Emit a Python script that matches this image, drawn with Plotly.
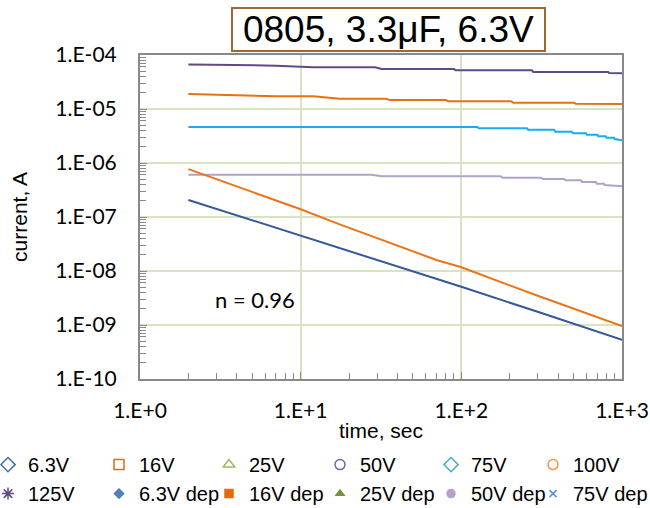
import numpy as np
import plotly.graph_objects as go

# Leakage current relaxation curves, 0805 3.3uF 6.3V MLCC
t_125v = [2, 7, 12, 29, 32, 90, 92, 275, 280, 820, 830, 1000]
i_125v = [6.7e-5, 6.35e-5, 5.9e-5, 5.9e-5, 5.5e-5, 5.5e-5, 5.2e-5, 5.2e-5,
          4.85e-5, 4.85e-5, 4.65e-5, 4.6e-5]

t_100v = [2, 7, 12, 17.5, 34, 36, 80, 83, 204, 210, 503, 515, 1000]
i_100v = [1.9e-5, 1.72e-5, 1.72e-5, 1.55e-5, 1.55e-5, 1.46e-5, 1.46e-5,
          1.39e-5, 1.39e-5, 1.31e-5, 1.31e-5, 1.25e-5, 1.24e-5]

t_75v_dep = [2, 126, 128, 256, 260, 378, 385, 487, 495, 595, 605, 703, 710,
             792, 800, 892, 900, 1000]
i_75v_dep = [4.64e-6, 4.64e-6, 4.39e-6, 4.39e-6, 4.14e-6, 4.14e-6, 3.8e-6,
             3.8e-6, 3.55e-6, 3.55e-6, 3.34e-6, 3.34e-6, 3.12e-6, 3.12e-6,
             2.94e-6, 2.94e-6, 2.78e-6, 2.63e-6]

t_50v_dep = [2, 27.5, 32, 176, 180, 313, 320, 436, 445, 554, 565, 687, 695,
             773, 780, 1000]
i_50v_dep = [6.07e-7, 6.07e-7, 5.71e-7, 5.71e-7, 5.34e-7, 5.34e-7, 5.06e-7,
             5.06e-7, 4.79e-7, 4.79e-7, 4.45e-7, 4.45e-7, 4.14e-7, 4.14e-7,
             3.92e-7, 3.71e-7]

t_16v = [2, 10, 17.5, 70, 100, 305, 1000]
i_16v = [7.7e-7, 1.39e-7, 7.3e-8, 1.6e-8, 1.17e-8, 3.4e-9, 9.6e-10]

t_6v3 = [2, 10, 17.5, 70, 100, 305, 1000]
i_6v3 = [2.07e-7, 4.5e-8, 2.7e-8, 7.2e-9, 5.1e-9, 1.72e-9, 5.3e-10]

# Axis ticks
x_ticks = [1, 10, 100, 1000]
x_ticktext = ["1.E+0", "1.E+1", "1.E+2", "1.E+3"]
y_ticks = [1e-10, 1e-9, 1e-8, 1e-7, 1e-6, 1e-5, 1e-4]
y_ticktext = ["1.E-10", "1.E-09", "1.E-08", "1.E-07", "1.E-06", "1.E-05", "1.E-04"]

# Legend entries: (name, symbol, color, size), laid out in six columns of two
legend_items = [
    ("6.3V", "diamond-open", "#4a6fa5", 11),
    ("16V", "square-open", "#e46c0a", 10),
    ("25V", "triangle-up-open", "#9bbb59", 10),
    ("50V", "circle-open", "#7a62a8", 10),
    ("75V", "diamond-open", "#4bacc6", 11),
    ("100V", "circle-open", "#f79646", 10),
    ("125V", "asterisk-open", "#604a7b", 10),
    ("6.3V dep", "diamond", "#4f81bd", 7),
    ("16V dep", "square", "#e46c0a", 8),
    ("25V dep", "triangle-up", "#77933c", 7),
    ("50V dep", "circle", "#b3a2c7", 8),
    ("75V dep", "x-thin-open", "#558ed5", 7),
]

curves = [
    (t_125v, i_125v, "#5f4a86"),
    (t_100v, i_100v, "#e8700f"),
    (t_75v_dep, i_75v_dep, "#12b0ec"),
    (t_50v_dep, i_50v_dep, "#b3a2c7"),
    (t_16v, i_16v, "#ec7418"),
    (t_6v3, i_6v3, "#36589a"),
]

fig = go.Figure()

for t, i, c in curves:
    fig.add_trace(go.Scatter(x=t, y=i, mode="lines", showlegend=False,
                             line=dict(color=c, width=2), hoverinfo="skip"))

n_cols = 6
for k, (name, sym, col, sz) in enumerate(legend_items):
    col_idx = k % n_cols
    fig.add_trace(go.Scatter(
        x=[None], y=[None], mode="markers", name=name,
        legend="legend" if col_idx == 0 else f"legend{col_idx + 1}",
        legendrank=k,
        marker=dict(symbol=sym, color=col, size=sz,
                    line=dict(color=col, width=1.5)),
    ))

minor_x = [m * 10 ** d for d in range(0, 3) for m in range(2, 10)]
minor_y = [m * 10.0 ** d for d in range(-10, -4) for m in range(2, 10)]

frame = "#898989"
grid = "#d8e4bf"

fig.update_xaxes(
    type="log", range=[0, 3], automargin=False,
    tickmode="array", tickvals=x_ticks, ticktext=x_ticktext,
    showgrid=True, gridcolor=grid, gridwidth=1.5,
    showline=True, linecolor=frame, linewidth=2, mirror=True,
    ticks="inside", ticklen=7, tickcolor=frame, tickwidth=1,
    ticklabelstandoff=12,
    tickfont=dict(family="Lato", size=21, color="#000"),
    minor=dict(tickmode="array", tickvals=minor_x, ticks="inside",
               ticklen=6, tickcolor=frame, showgrid=False),
    title=dict(text="time, sec", font=dict(family="Liberation Sans", size=21, color="#000"),
               standoff=2),
    zeroline=False,
)
fig.update_yaxes(
    type="log", range=[-10, -4], automargin=False,
    tickmode="array", tickvals=y_ticks, ticktext=y_ticktext,
    showgrid=True, gridcolor=grid, gridwidth=1.5,
    showline=True, linecolor=frame, linewidth=2, mirror=True,
    ticks="inside", ticklen=7, tickcolor=frame, tickwidth=1,
    ticklabelstandoff=17,
    tickfont=dict(family="Lato", size=21, color="#000"),
    minor=dict(tickmode="array", tickvals=minor_y, ticks="inside",
               ticklen=6, tickcolor=frame, showgrid=False),
    title=dict(text="current, A", font=dict(family="Liberation Sans", size=21, color="#000"),
               standoff=22),
    zeroline=False,
)

fig.add_annotation(
    text="0805, 3.3μF, 6.3V", xref="paper", yref="paper",
    x=0.5156, y=1.0787, xanchor="center", yanchor="middle",
    showarrow=False, font=dict(family="Liberation Sans", size=37, color="#000"),
    bgcolor="#ffffff", bordercolor="#9c6a34", borderwidth=2, borderpad=0,
    width=311, height=41,
)
fig.add_annotation(
    text="n = 0.96", xref="paper", yref="paper", x=0.239, y=0.244,
    xanchor="center", yanchor="middle", showarrow=False,
    font=dict(family="Lato", size=22, color="#000"),
)

# Six legend columns, each holding two entries
plot_left, plot_w = 140, 482
col_left_px = [-12, 99, 209, 320, 431, 533]
legend_common = dict(
    orientation="v", y=-0.204, xanchor="left", yanchor="top",
    itemwidth=30, tracegroupgap=0,
    font=dict(family="Liberation Sans", size=20, color="#000"),
    bgcolor="rgba(0,0,0,0)",
)
legend_layout = {}
for c, px in enumerate(col_left_px):
    key = "legend" if c == 0 else f"legend{c + 1}"
    legend_layout[key] = dict(legend_common, x=(px - plot_left) / plot_w)

fig.update_layout(
    width=650, height=508,
    margin=dict(l=140, r=28, t=55, b=129, autoexpand=False),
    paper_bgcolor="#ffffff", plot_bgcolor="#ffffff",
    **legend_layout,
)

fig.write_html("out.html")
